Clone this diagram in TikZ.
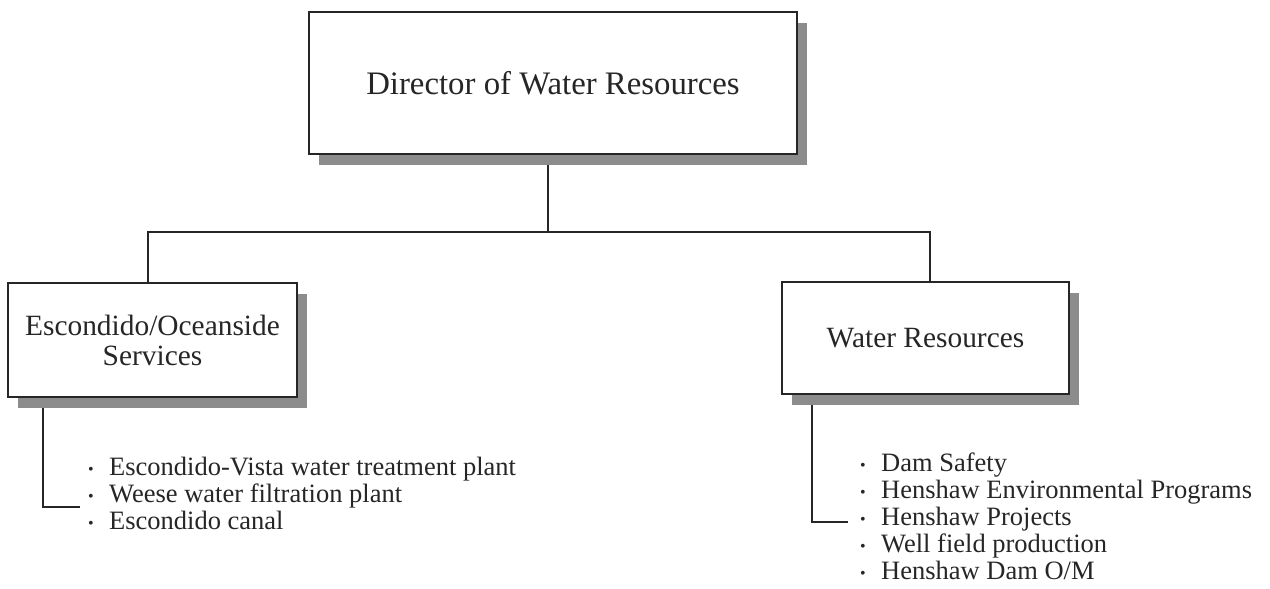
\documentclass[tikz,border=0pt]{standalone}
\usepackage{fontspec}
\setmainfont{Liberation Serif}
\usetikzlibrary{positioning,shadows,backgrounds}
\newcommand\dutybullet{\makebox[21pt][l]{\raisebox{1pt}{\fontsize{16}{16}\selectfont •}}}

\begin{document}
\begin{tikzpicture}[x=1pt, y=-1pt,
    unit/.style={draw=black!85, line width=1.8pt, fill=white, text=black!85,
      align=center, inner sep=0pt,
      drop shadow={shadow xshift=10pt, shadow yshift=-11pt, fill=black!45, opacity=1}},
    duties/.style={align=left, anchor=west, inner sep=0pt, text=black!85,
      font=\fontsize{26.5}{27}\selectfont},
    link/.style={draw=black!85, line width=1.4pt}]
                \useasboundingbox (0,0) rectangle (1270,589);
                \node[unit, minimum width=488pt, minimum height=142pt, font=\fontsize{32.8}{36}\selectfont] (director) at (553,83) {Director of Water Resources};
                \node[unit, minimum width=289pt, minimum height=114pt, font=\fontsize{29.4}{30}\selectfont] (eos) at (152.5,340) {Escondido/Oceanside\\Services};
                \node[unit, minimum width=287pt, minimum height=112pt, font=\fontsize{29.4}{30}\selectfont] (wr) at (925.5,338) {Water Resources};
                \node[duties] (eoslist) at (88,493) {\dutybullet Escondido-Vista water treatment plant\\
                    \dutybullet Weese water filtration plant\\
                    \dutybullet Escondido canal};
                \node[duties] (wrlist) at (860,516) {\dutybullet Dam Safety\\
                    \dutybullet Henshaw Environmental Programs\\
                    \dutybullet Henshaw Projects\\
                    \dutybullet Well field production\\
                    \dutybullet Henshaw Dam O/M};
                \coordinate (bar) at (548,232);
                \begin{scope}[on background layer]
                \draw[link] (director.south -| bar) -- (bar);
                \draw[link] ([xshift=-4.5pt]eos.north) |- (bar) -| ([xshift=4.5pt]wr.north);
                \draw[link] ([xshift=36pt]eos.south west) |- ([xshift=-8pt, yshift=-14pt]eoslist.west);
                \draw[link] ([xshift=31pt]wr.south west) |- ([xshift=-12pt, yshift=-6pt]wrlist.west);
                \end{scope}
            \end{tikzpicture}
\end{document}
